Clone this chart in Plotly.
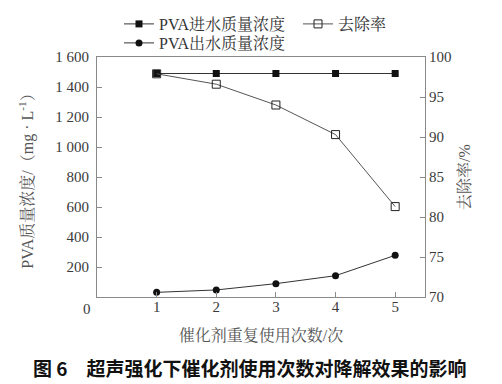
import plotly.graph_objects as go

runs = [1, 2, 3, 4, 5]
inflow = [1490, 1490, 1490, 1490, 1490]
outflow = [31, 47, 89, 142, 278]
removal = [97.9, 96.6, 94.0, 90.3, 81.3]

y_tickvals = [200, 400, 600, 800, 1000, 1200, 1400, 1600]
y_ticktext = ["200", "400", "600", "800", "1 000", "1 200", "1 400", "1 600"]
y2_tickvals = [70, 75, 80, 85, 90, 95, 100]

SERIF = "Liberation Serif, Noto Serif CJK SC, Noto Sans CJK SC, serif"
LINE = "#333333"
AX = "#8a8a8a"
TXT = "#3a3a3a"
TTL = "#555555"
# page body has an 8px default margin; size the figure to fit the 502x384 window
OFF = 8
W, H = 502 - OFF, 384 - OFF
L, T = 97 - OFF, 57 - OFF
R, B = W - (425 - OFF), H - (297 - OFF)
PW, PH = W - L - R, H - T - B

fig = go.Figure()
fig.add_trace(go.Scatter(
    x=runs, y=inflow, name="PVA进水质量浓度", mode="lines+markers",
    line=dict(color=LINE, width=1), marker=dict(symbol="square", size=7, color="#111"),
    legend="legend"))
fig.add_trace(go.Scatter(
    x=runs, y=outflow, name="PVA出水质量浓度", mode="lines+markers",
    line=dict(color=LINE, width=1), marker=dict(symbol="circle", size=7, color="#111"),
    legend="legend2"))
fig.add_trace(go.Scatter(
    x=runs, y=removal, name="去除率", mode="lines+markers", yaxis="y2",
    line=dict(color="#555555", width=1),
    marker=dict(symbol="square-open", size=8, color="#222", line=dict(width=1)),
    legend="legend3"))

fig.add_annotation(x=0, y=0, xref="x", yref="y", text="0", showarrow=False,
                   xshift=-10, yshift=-12, font=dict(family=SERIF, size=15, color=TXT))
fig.add_annotation(x=(250 - OFF - L) / PW, y=(H - B - (367 - OFF)) / PH, xref="paper", yref="paper",
                   text="图 6\u3000超声强化下催化剂使用次数对降解效果的影响",
                   showarrow=False, xanchor="center", yanchor="middle",
                   font=dict(family="Noto Sans CJK SC", size=19, color="#111", weight="bold"))

leg_common = dict(orientation="h", xanchor="left", yanchor="middle",
                  xref="container", yref="container", itemwidth=30,
                  font=dict(family=SERIF, size=16, color="#333"), bgcolor="rgba(0,0,0,0)")

fig.update_layout(
    width=W, height=H,
    showlegend=True,
    margin=dict(l=L, r=R, t=T, b=B, autoexpand=False),
    paper_bgcolor="white", plot_bgcolor="white",
    font=dict(family=SERIF, size=15, color=TXT),
    legend=dict(x=(119 - OFF) / W, y=1 - (24 - OFF) / H, **leg_common),
    legend2=dict(x=(119 - OFF) / W, y=1 - (43 - OFF) / H, **leg_common),
    legend3=dict(x=(298 - OFF) / W, y=1 - (24 - OFF) / H, **leg_common),
    xaxis=dict(range=[0, 5.5], tickvals=runs, ticks="inside", ticklen=5,
               tickcolor=AX, showline=True, linecolor=AX, linewidth=1, mirror=True,
               showgrid=False, zeroline=False, ticklabelstandoff=-4,
               title=dict(text="催化剂重复使用次数/次", font=dict(size=16, color=TTL), standoff=15),
               tickfont=dict(size=15, color=TXT)),
    yaxis=dict(range=[0, 1600], tickvals=y_tickvals, ticktext=y_ticktext,
               ticks="inside", ticklen=5, tickcolor=AX, showline=True, linecolor=AX,
               linewidth=1, showgrid=False, zeroline=False, ticklabelstandoff=4,
               title=dict(text="PVA质量浓度/（mg · L<sup>-1</sup>）", font=dict(size=16, color=TTL), standoff=17),
               tickfont=dict(size=15, color=TXT)),
    yaxis2=dict(range=[70, 100], tickvals=y2_tickvals, overlaying="y", side="right",
                ticks="inside", ticklen=5, tickcolor=AX, showline=True, linecolor=AX,
                linewidth=1, showgrid=False, zeroline=False,
                title=dict(text="去除率/%", font=dict(size=16, color=TTL), standoff=8),
                tickfont=dict(size=15, color=TXT)),
)
fig.write_html("out.html")
